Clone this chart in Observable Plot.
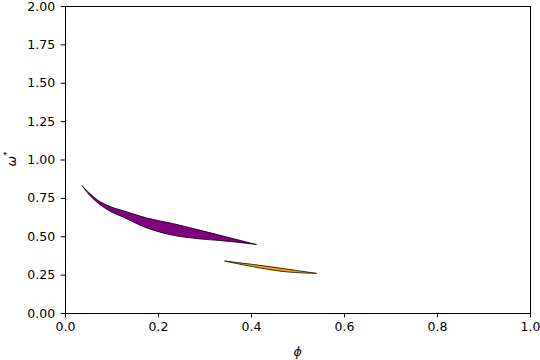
<!DOCTYPE html>
<html><head>
<meta charset="utf-8">
<script src="https://cdn.jsdelivr.net/npm/d3@7"></script>
<script src="https://cdn.jsdelivr.net/npm/@observablehq/plot@0.6"></script>
<style>body{margin:0;background:#fff}</style>
</head><body><div id="chart"></div>
<script>
// Purple region (upper and lower boundaries at shared phi values)
const purplePhi   = [0.037, 0.050, 0.071, 0.100, 0.128, 0.176, 0.233, 0.283, 0.348, 0.412];
const purpleUpper = [0.829, 0.788, 0.734, 0.690, 0.664, 0.619, 0.582, 0.545, 0.495, 0.446];
const purpleLower = [0.829, 0.777, 0.716, 0.658, 0.621, 0.554, 0.506, 0.485, 0.468, 0.446];
// Orange region
const orangePhi   = [0.344, 0.405, 0.477, 0.541];
const orangeUpper = [0.338, 0.316, 0.286, 0.258];
const orangeLower = [0.338, 0.301, 0.268, 0.258];

const xTicks = [0, 0.2, 0.4, 0.6, 0.8, 1.0];
const yTicks = [0, 0.25, 0.5, 0.75, 1.0, 1.25, 1.5, 1.75, 2.0];

const purple = purplePhi.map((x, i) => ({x, y1: purpleLower[i], y2: purpleUpper[i]}));
const orange = orangePhi.map((x, i) => ({x, y1: orangeLower[i], y2: orangeUpper[i]}));

const chart = Plot.plot({
  width: 540, height: 360,
  marginLeft: 65, marginRight: 10, marginTop: 6, marginBottom: 47,
  style: {fontFamily: "DejaVu Sans", fontSize: "12.5px", color: "black", background: "white"},
  x: {domain: [0, 1], ticks: xTicks, tickFormat: d3.format(".1f"), tickSize: 4.4, tickPadding: 4, label: null},
  y: {domain: [0, 2], ticks: yTicks, tickFormat: d3.format(".2f"), tickSize: 4.4, tickPadding: 6, label: null},
  marks: [
    Plot.areaY(purple, {x: "x", y1: "y1", y2: "y2", fill: "#800080", stroke: "black", strokeWidth: 0.8, curve: "catmull-rom"}),
    Plot.areaY(orange, {x: "x", y1: "y1", y2: "y2", fill: "#FFA500", stroke: "black", strokeWidth: 0.8, curve: "catmull-rom"}),
    Plot.frame({stroke: "black", strokeWidth: 1})
  ]
});
document.getElementById("chart").appendChild(chart);

const svg = d3.select(chart);
svg.append("text")
  .attr("x", 297.5).attr("y", 356)
  .attr("text-anchor", "middle")
  .attr("font-family", "DejaVu Sans").attr("font-size", "12.5px")
  .attr("font-style", "italic").attr("fill", "black")
  .text("ϕ");
const yl = svg.append("text")
  .attr("transform", "translate(16,159) rotate(-90)")
  .attr("text-anchor", "middle")
  .attr("font-family", "DejaVu Sans").attr("font-size", "12.5px")
  .attr("fill", "black");
yl.append("tspan").attr("font-style", "italic").text("ω");
yl.append("tspan").attr("font-size", "9px").attr("dy", "-6").text("*");
</script>
</body></html>
